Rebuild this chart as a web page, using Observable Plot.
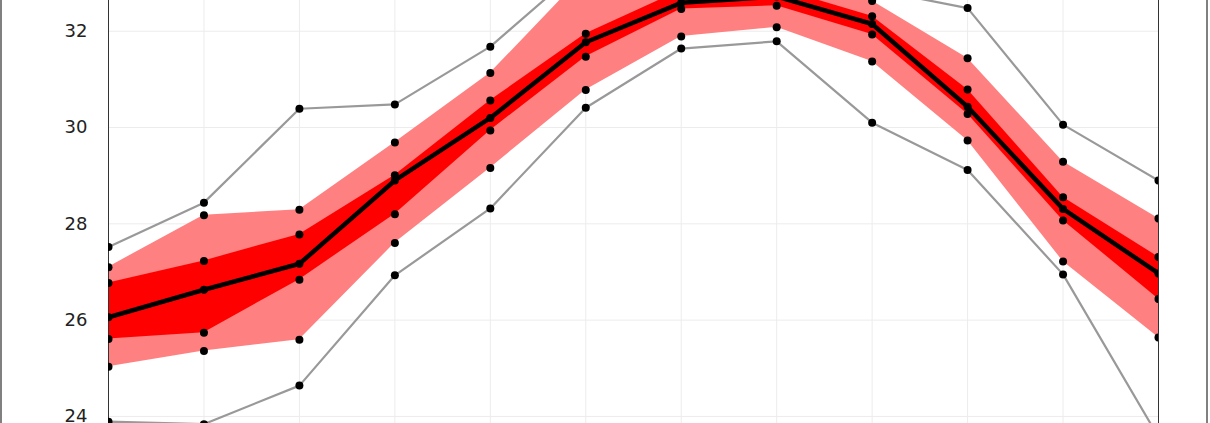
<!DOCTYPE html>
<html><head><meta charset="utf-8">
<script src="https://cdn.jsdelivr.net/npm/d3@7"></script>
<script src="https://cdn.jsdelivr.net/npm/@observablehq/plot@0.6"></script>
<style>
html,body{margin:0;padding:0;background:#fff;overflow:hidden;}
#wrap{position:relative;width:1210px;height:423px;overflow:hidden;}
#frame{position:absolute;left:0;top:0;width:1208px;height:423px;box-sizing:border-box;border-left:2px solid #808080;border-right:2px solid #808080;pointer-events:none;}
</style></head><body>
<div id="wrap"><div id="chart"></div><div id="frame"></div></div>
<script>
const months = [0, 1, 2, 3, 4, 5, 6, 7, 8, 9, 10, 11];
const maxT  = [27.52, 28.44, 30.39, 30.48, 31.68, 33.40, 33.70, 33.60, 32.87, 32.48, 30.06, 28.90];
const p90   = [27.10, 28.18, 28.29, 29.69, 31.13, 33.20, 33.30, 33.25, 32.63, 31.44, 29.29, 28.11];
const p75   = [26.77, 27.23, 27.78, 29.01, 30.56, 31.95, 32.85, 32.90, 32.31, 30.79, 28.55, 27.31];
const meanT = [26.06, 26.63, 27.17, 28.90, 30.20, 31.77, 32.59, 32.72, 32.15, 30.43, 28.31, 26.97];
const p25   = [25.61, 25.74, 26.84, 28.20, 29.94, 31.47, 32.46, 32.53, 31.93, 30.28, 28.07, 26.44];
const p10   = [25.03, 25.36, 25.59, 27.60, 29.16, 30.78, 31.89, 32.08, 31.37, 29.73, 27.22, 25.64];
const minT  = [23.89, 23.84, 24.64, 26.93, 28.32, 30.41, 31.64, 31.79, 30.10, 29.12, 26.95, 23.57];
const yTicks = [24, 26, 28, 30, 32];

const table = months.map((m, i) => ({m, max: maxT[i], p90: p90[i], p75: p75[i], mean: meanT[i], p25: p25[i], p10: p10[i], min: minT[i]}));
const series = {max: maxT, p90, p75, mean: meanT, p25, p10, min: minT};
const dots = [];
for (const [k, arr] of Object.entries(series)) arr.forEach((v, i) => dots.push({m: months[i], v, k}));
const ends = [months[0], months[months.length - 1]];

const chart = Plot.plot({
  width: 1210,
  height: 423,
  marginTop: 0,
  marginBottom: 0,
  marginLeft: 108,
  marginRight: 52,
  style: {fontFamily: "DejaVu Sans", fontSize: "18px", color: "#222", background: "transparent", overflow: "hidden"},
  x: {domain: [months[0], months[months.length - 1]], axis: null},
  y: {domain: [23.853, 32.638], axis: null},
  marks: [
    Plot.gridY(yTicks, {stroke: "#ececec", strokeOpacity: 1, strokeWidth: 1}),
    Plot.gridX(months.slice(1, -1), {stroke: "#ececec", strokeOpacity: 1, strokeWidth: 1}),
    Plot.lineY(table, {x: "m", y: "max", stroke: "#999", strokeWidth: 2.2, clip: true}),
    Plot.lineY(table, {x: "m", y: "min", stroke: "#999", strokeWidth: 2.2, clip: true}),
    Plot.areaY(table, {x: "m", y1: "p10", y2: "p90", fill: "#ff8080", fillOpacity: 1, clip: true}),
    Plot.areaY(table, {x: "m", y1: "p25", y2: "p75", fill: "#ff0000", fillOpacity: 1, clip: true}),
    Plot.ruleX(ends, {stroke: "#333", strokeWidth: 1}),
    Plot.lineY(table, {x: "m", y: "mean", stroke: "#000", strokeWidth: 4.5, clip: true}),
    Plot.dot(dots, {x: "m", y: "v", r: 4, fill: "#000", stroke: null, clip: true}),
    Plot.axisY(yTicks, {tickSize: 0, tickPadding: 21, fontSize: 18, fill: "#222"})
  ]
});
document.getElementById("chart").appendChild(chart);
</script>
</body></html>
